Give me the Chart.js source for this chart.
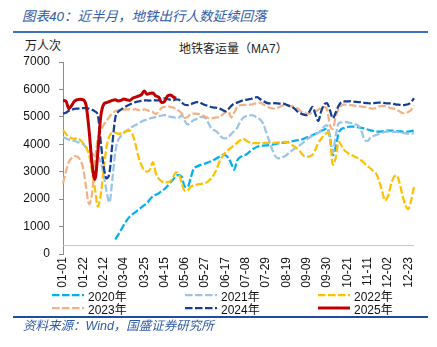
<!DOCTYPE html>
<html>
<head>
<meta charset="utf-8">
<script src="https://cdn.jsdelivr.net/npm/chart.js@4.4.1/dist/chart.umd.min.js"></script>
<style>
  body { margin: 0; background: #fff; }
  #page { position: relative; width: 437px; height: 347px; overflow: hidden; font-family: "Liberation Sans", "Noto Sans CJK SC", sans-serif; }
  .t { position: absolute; white-space: nowrap; line-height: 1; }
  #heading { left: 22px; top: 10px; font-size: 13.5px; font-style: italic; color: #2f5ca8; font-family: "Liberation Sans", "Noto Sans CJK SC"; }
  #unit { left: 25px; top: 39px; font-size: 12px; color: #222; font-family: "Noto Sans CJK SC"; }
  #title { left: 179px; top: 43px; font-size: 12px; color: #222; font-family: "Liberation Sans", "Noto Sans CJK SC"; }
  #source { left: 23px; top: 320px; font-size: 12.5px; font-style: italic; color: #2f5ca8; font-family: "Liberation Sans", "Noto Sans CJK SC"; }
  .rule { position: absolute; left: 13px; width: 415px; }
  #c { position: absolute; left: 0; top: 0; }
  .lg { position: absolute; display: flex; align-items: center; font-size: 12px; color: #111; height: 12px; }
  .lg svg { margin-right: 4px; }
</style>
</head>
<body>
<div id="page">
  <div class="t" id="heading">图表40：近半月，地铁出行人数延续回落</div>
  <div class="rule" style="top:31px;height:2px;background:#3f6fbf"></div>
  <div class="t" id="unit">万人次</div>
  <div class="t" id="title">地铁客运量（MA7）</div>
  <canvas id="c" width="437" height="347"></canvas>
  <div id="legend"></div>
  <div class="rule" style="top:316px;height:2px;background:#1f4e9e"></div>
  <div class="t" id="source">资料来源：Wind，国盛证券研究所</div>
</div>
<script>
// MA7 subway ridership, sampled every 3 days from 01-01 (leap-year calendar)
const STEP_DAYS = 3;
const TICK_LABELS = ['01-01', '01-22', '02-12', '03-04', '03-25', '04-15', '05-06', '05-27', '06-17',
  '07-08', '07-29', '08-19', '09-09', '09-30', '10-21', '11-11', '12-02', '12-23'];

const categories = [];
for (let d = 0; d <= 363; d += STEP_DAYS) {
  const dt = new Date(2024, 0, 1 + d);
  categories.push(String(dt.getMonth() + 1).padStart(2, '0') + '-' + String(dt.getDate()).padStart(2, '0'));
}

const s2020 = [null, null, null, null, null, null, null, null, null, null, null, null, null, null, null, null, null, null,
  530, 700, 880, 1060, 1230, 1360, 1450, 1530, 1620, 1700,
  1780, 1860, 2000, 2100, 2160, 2210, 2300, 2370, 2480, 2600,
  2720, 2860, 2880, 2800, 2450, 2450, 2760, 3100, 3180, 3230,
  3260, 3300, 3340, 3380, 3430, 3490, 3550, 3610, 3600, 3500,
  3300, 3070, 3400, 3520, 3580, 3620, 3700, 3790, 3860, 3910,
  3940, 3950, 3960, 3970, 3990, 4010, 4030, 4040, 4060, 4070,
  4090, 4110, 4130, 4150, 4170, 4200, 4250, 4290, 4330, 4380,
  4430, 4490, 4530, 4580, 4300, 3600, 3900, 4400, 4560, 4600,
  4630, 4640, 4640, 4630, 4620, 4600, 4570, 4540, 4510, 4490,
  4460, 4460, 4470, 4490, 4500, 4500, 4490, 4480, 4470, 4460,
  4455, 4460, 4480, 4510];

const s2021 = [4250, 4220, 4170, 4150, 4120, 4080, 4050, 4000, 3880, 3780,
  3650, 3580, 3550, 3350, 2900, 2300, 1880, 2700, 3700, 4150,
  4300, 4420, 4500, 4580, 4650, 4700, 4760, 4820, 4870, 4900,
  4940, 4970, 5000, 5020, 5050, 5060, 5040, 5000, 4990, 4960,
  4980, 5060, 4850, 4720, 4780, 4880, 4920, 5000, 4990, 4960,
  4800, 4600, 4520, 4460, 4350, 4230, 4220, 4260, 4380, 4480,
  4600, 4800, 4950, 5020, 5050, 5060, 5030, 4960, 4900, 4750,
  4450, 4150, 3850, 3600, 3490, 3500, 3540, 3600, 3700, 3780,
  3850, 3920, 4000, 4080, 4170, 4250, 4300, 4360, 4420, 4500,
  4650, 4700, 4200, 3700, 4300, 4760, 4800, 4820, 4800, 4780,
  4760, 4720, 4660, 4450, 4150, 4120, 4250, 4300, 4340, 4380,
  4420, 4450, 4460, 4460, 4450, 4450, 4430, 4420, 4400, 4390,
  4390, 4400];

const s2022 = [4520, 4380, 4260, 4220, 4200, 4230, 4150, 4030, 3880, 3600,
  3000, 2400, 1730, 2150, 3050, 3900, 4300, 4420, 4420, 4380,
  4400, 4450, 4480, 4500, 4350, 4000, 3550, 3250, 3050, 3000,
  3080, 3350, 2950, 2750, 2650, 2600, 2620, 2650, 2820, 2980,
  2900, 2550, 2300, 2320, 2450, 2500, 2530, 2550, 2560, 2580,
  2650, 2740, 2900, 3100, 3380, 3560, 3700, 3800, 3880, 3970,
  4050, 4140, 4200, 4150, 4080, 4050, 4040, 4040, 4040, 4045,
  4050, 4050, 4050, 4055, 4060, 4070, 4080, 4090, 4050, 3970,
  3900, 3820, 3700, 3580, 3550, 3560, 3620, 3800, 4050, 4200,
  4330, 4420, 4300, 3250, 3500, 4100, 3950, 3780, 3700, 3620,
  3580, 3530, 3470, 3400, 3300, 3200, 3120, 3020, 2920, 2650,
  2300, 1950, 2100, 2500, 2800, 2870, 2600, 2150, 1780, 1640,
  1950, 2450];

const s2023 = [2580, 3000, 3350, 3500, 3570, 3540, 3420, 3100, 2400, 1820,
  2200, 3400, 4200, 4500, 4700, 4850, 5000, 5130, 5200, 5240,
  5250, 5260, 5270, 5280, 5260, 5280, 5250, 5240, 5270, 5250,
  5200, 5180, 5100, 5200, 5330, 5360, 5370, 5360, 5340, 5280,
  5220, 5120, 4960, 5000, 5100, 5120, 5120, 5100, 5060, 5000,
  4960, 4940, 4960, 4980, 5000, 5080, 5180, 5200, 4980, 5150,
  5350, 5420, 5440, 5440, 5450, 5450, 5480, 5500, 5520, 5450,
  5400, 5340, 5310, 5300, 5330, 5380, 5420, 5420, 5400, 5380,
  5340, 5300, 5200, 5130, 5120, 5120, 5150, 5200, 5260, 5320,
  5360, 5280, 4700, 4550, 5000, 5280, 5420, 5450, 5440, 5430,
  5420, 5400, 5390, 5370, 5360, 5340, 5310, 5300, 5330, 5380,
  5400, 5390, 5360, 5320, 5300, 5260, 5200, 5140, 5130, 5180,
  5250, 5420];

const s2024 = [5120, 5150, 5220, 5260, 5290, 5300, 5310, 5320, 5320, 5300,
  5260, 5200, 5060, 4100, 3200, 2760, 2950, 4000, 4950, 5180,
  5260, 5340, 5400, 5450, 5500, 5540, 5560, 5580, 5600, 5600,
  5590, 5620, 5600, 5600, 5640, 5670, 5650, 5620, 5600, 5640,
  5620, 5520, 5440, 5430, 5470, 5500, 5540, 5530, 5480, 5430,
  5400, 5360, 5340, 5330, 5300, 5250, 5200, 5280, 5400, 5480,
  5520, 5560, 5600, 5620, 5640, 5660, 5700, 5720, 5640, 5580,
  5520, 5490, 5490, 5500, 5490, 5480, 5480, 5440, 5400, 5360,
  5280, 5180, 5120, 5080, 5060, 5200, 5360, 5100, 4850, 5200,
  5450, 5500, 5250, 4950, 5150, 5400, 5540, 5560, 5560, 5570,
  5560, 5550, 5540, 5530, 5510, 5500, 5490, 5500, 5510, 5520,
  5510, 5500, 5490, 5490, 5470, 5450, 5440, 5430, 5440, 5460,
  5540, 5680];

const s2025 = [5600, 5580, 5300, 5420, 5580, 5630, 5640, 5620, 5400, 4500,
  3300, 2720, 3700, 5000, 5450, 5520, 5560, 5600, 5620, 5580,
  5600, 5650, 5620, 5600, 5680, 5720, 5760, 5800, 5940, 5820,
  5860, 5870, 5760, 5720, 5520, 5560, 5760, 5800, 5730, 5680];

// value at which the category axis line crosses the value axis
const X_AXIS_AT = 330;

const series = [
  { label: '2020年', data: s2020, color: '#00b0f0', dash: [7.5, 2.5], width: 2.25, order: 5 },
  { label: '2021年', data: s2021, color: '#9dc3e6', dash: [7.5, 2.5], width: 2.25, order: 4 },
  { label: '2022年', data: s2022, color: '#ffc000', dash: [7.5, 2.5], width: 2.25, order: 3 },
  { label: '2023年', data: s2023, color: '#f4b183', dash: [7.5, 2.5], width: 2.25, order: 2 },
  { label: '2024年', data: s2024, color: '#123f94', dash: [7.5, 2.5], width: 2.25, order: 1 },
  { label: '2025年', data: s2025, color: '#c00000', dash: [], width: 3, order: 0 },
];

const crossLine = {
  id: 'crossLine',
  beforeDatasetsDraw(chart) {
    const { ctx, chartArea, scales } = chart;
    const y = Math.round(scales.y.getPixelForValue(X_AXIS_AT)) + 0.5;
    ctx.save();
    ctx.strokeStyle = '#c8c8c8';
    ctx.lineWidth = 1;
    ctx.beginPath();
    ctx.moveTo(chartArea.left, y);
    ctx.lineTo(chartArea.right, y);
    ctx.stroke();
    ctx.restore();
  }
};

new Chart(document.getElementById('c'), {
  type: 'line',
  data: {
    labels: categories,
    datasets: series.map(s => ({
      label: s.label,
      data: s.data,
      borderColor: s.color,
      borderWidth: s.width,
      borderDash: s.dash,
      order: s.order,
      pointRadius: 0,
      fill: false,
      spanGaps: false,
      cubicInterpolationMode: 'monotone',
    })),
  },
  options: {
    responsive: false,
    animation: false,
    devicePixelRatio: 1,
    layout: { padding: { left: 0, top: 62, right: 23, bottom: 0 } },
    plugins: { legend: { display: false }, tooltip: { enabled: false } },
    scales: {
      x: {
        grid: { display: false, drawTicks: false },
        border: { display: false },
        afterFit(scale) { scale.height = 93; },
        ticks: {
          autoSkip: false, maxRotation: 90, minRotation: 90, padding: 3,
          color: '#111', font: { family: 'Liberation Sans', size: 12 },
          callback(v, i) { return TICK_LABELS.includes(categories[i]) ? categories[i] : null; },
        },
      },
      y: {
        min: 0, max: 7000,
        grid: { display: true, drawOnChartArea: false, tickLength: 4, color: '#8c8c8c' },
        border: { display: true, color: '#8c8c8c', width: 1 },
        afterFit(scale) { scale.width = 63; },
        ticks: {
          stepSize: 1000, padding: 9, color: '#111', font: { family: 'Liberation Sans', size: 12 },
          callback: v => String(v),
        },
      },
    },
  },
  plugins: [crossLine],
});

// legend: three columns, two rows
const legendPos = [[52, 295], [185, 295], [318, 295], [52, 308], [185, 308], [318, 308]];
const legend = document.getElementById('legend');
series.forEach((s, i) => {
  const el = document.createElement('div');
  el.className = 'lg';
  el.style.left = legendPos[i][0] + 'px';
  el.style.top = (legendPos[i][1] - 6) + 'px';
  el.innerHTML = '<svg width="32" height="6"><line x1="0" y1="3" x2="32" y2="3" stroke="' + s.color +
    '" stroke-width="' + s.width + '" stroke-dasharray="' + (s.dash.length ? s.dash.join(',') : 'none') + '"/></svg>' +
    '<span>' + s.label + '</span>';
  legend.appendChild(el);
});
</script>
</body>
</html>
